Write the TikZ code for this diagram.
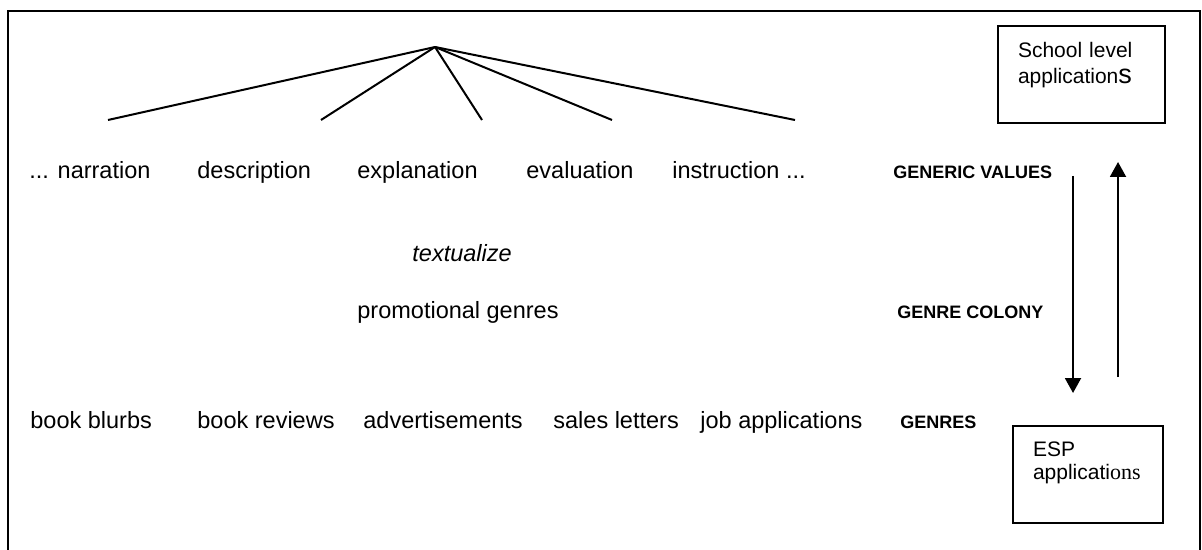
\documentclass[tikz,border=0pt]{standalone}
\usepackage{fontspec}
\setmainfont{Liberation Sans}
\newfontfamily\timesfont{Liberation Serif}
\usetikzlibrary{arrows.meta}
\tikzstyle{genreword} = [anchor=base west, inner sep=0pt, font=\fontsize{11.75}{14}\selectfont]
\tikzstyle{tierlabel} = [anchor=base west, inner sep=0pt, font=\bfseries\fontsize{9}{11}\selectfont]
\tikzstyle{appbox} = [rectangle, draw=black, line width=1pt, anchor=north west, align=left, inner xsep=10pt, inner ysep=8pt, font=\fontsize{10.5}{13}\selectfont]
\tikzstyle{treeline} = [line width=1pt]
\tikzstyle{arrow} = [line width=1pt,-{Triangle[length=7.5pt,width=8pt]}]

\begin{document}
\begin{tikzpicture}[x=0.5pt, y=-0.5pt]
\useasboundingbox (0,0) rectangle (1202,550);
\draw [line width=1pt] (8,11) rectangle (1200,560);

% generic values
\coordinate (apex) at (435,47);
\coordinate (endA) at (108,120);
\coordinate (endB) at (321,120);
\coordinate (endC) at (482,120);
\coordinate (endD) at (612,120);
\coordinate (endE) at (795,120);
\foreach \e in {endA,endB,endC,endD,endE}
  \draw [treeline] (apex) -- (\e);

\node (narration) [genreword] at (29,179) {... narration};
\node (description) [genreword] at (197,179) {description};
\node (explanation) [genreword] at (357,179) {explanation};
\node (evaluation) [genreword] at (526,179) {evaluation};
\node (instruction) [genreword] at (672,179) {instruction ...};
\node (values) [tierlabel] at (893,179) {GENERIC VALUES};

% genre colony
\node (textualize) [genreword, font=\itshape\fontsize{11.75}{14}\selectfont] at (412,262) {textualize};
\node (promo) [genreword] at (357,318) {promotional genres};
\node (colony) [tierlabel] at (897,318) {GENRE COLONY};

% genres
\node (blurbs) [genreword] at (30,428) {book blurbs};
\node (reviews) [genreword] at (197,428) {book reviews};
\node (adverts) [genreword] at (363,428) {advertisements};
\node (sales) [genreword] at (553,428) {sales letters};
\node (jobs) [genreword] at (700,428) {job applications};
\node (genres) [tierlabel] at (900,428) {GENRES};

% applications
\node (school) [appbox, text width=63.5pt] at (997,25)
  {School level\\ application{\fontsize{13.5}{13}\selectfont s}\rule[-12pt]{0pt}{12pt}};
\node (esp) [appbox, text width=55pt, font=\fontsize{10.5}{11.5}\selectfont] at (1012,425)
  {ESP\\ applicati{\timesfont\fontsize{11}{11.5}\selectfont ons}\rule[-13.5pt]{0pt}{13.5pt}};

\coordinate (downS) at (1073,176);
\coordinate (downE) at (1073,393);
\coordinate (upS) at (1118,377);
\coordinate (upE) at (1118,162);
\draw [arrow] (downS) -- (downE);
\draw [arrow] (upS) -- (upE);

\end{tikzpicture}
\end{document}
